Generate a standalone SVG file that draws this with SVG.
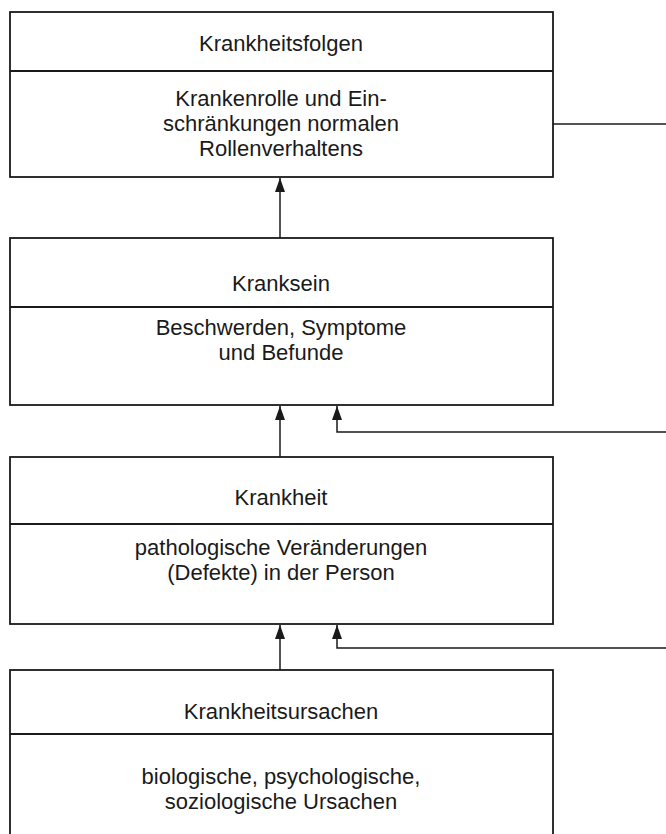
<svg xmlns="http://www.w3.org/2000/svg" width="666" height="834" viewBox="0 0 666 834">
<style>
.box{fill:#fff;stroke:#1a1a1a;stroke-width:1.8}
.div{stroke:#1a1a1a;stroke-width:1.8}
.t{font-family:"Liberation Sans",Arial,sans-serif;font-size:22px;fill:#1a1a1a;text-anchor:middle}
.c{fill:none;stroke:#1a1a1a;stroke-width:1.5}
</style>
<defs>
<marker id="ah" viewBox="0 0 14 10" refX="14" refY="5" markerWidth="14" markerHeight="10" markerUnits="userSpaceOnUse" orient="auto">
<path d="M0,0 L14,5 L0,10 Z" fill="#1a1a1a"/>
</marker>
</defs>
<rect width="666" height="834" fill="#fff"/>
<g id="folgen">
<rect class="box" x="10" y="12" width="543" height="165"/>
<line class="div" x1="10" y1="71" x2="553" y2="71"/>
<text class="t" x="281" y="51">Krankheitsfolgen</text>
<text class="t" x="281" y="106">Krankenrolle und Ein-</text>
<text class="t" x="281" y="131">schränkungen normalen</text>
<text class="t" x="281" y="156">Rollenverhaltens</text>
</g>
<g id="kranksein">
<rect class="box" x="10" y="238" width="543" height="167"/>
<line class="div" x1="10" y1="307" x2="553" y2="307"/>
<text class="t" x="281" y="291">Kranksein</text>
<text class="t" x="281" y="335">Beschwerden, Symptome</text>
<text class="t" x="281" y="360">und Befunde</text>
</g>
<g id="krankheit">
<rect class="box" x="10" y="457" width="543" height="167"/>
<line class="div" x1="10" y1="524" x2="553" y2="524"/>
<text class="t" x="281" y="505">Krankheit</text>
<text class="t" x="281" y="555">pathologische Veränderungen</text>
<text class="t" x="281" y="580">(Defekte) in der Person</text>
</g>
<g id="ursachen">
<rect class="box" x="10" y="670" width="543" height="180"/>
<line class="div" x1="10" y1="734" x2="553" y2="734"/>
<text class="t" x="281" y="719">Krankheitsursachen</text>
<text class="t" x="281" y="784">biologische, psychologische,</text>
<text class="t" x="281" y="809">soziologische Ursachen</text>
</g>
<g id="connectors">
<line class="c" x1="553" y1="124" x2="666" y2="124"/>
<line class="c" x1="280" y1="238" x2="280" y2="178" marker-end="url(#ah)"/>
<line class="c" x1="280" y1="457" x2="280" y2="406" marker-end="url(#ah)"/>
<polyline class="c" points="666,432 337,432 337,406" marker-end="url(#ah)"/>
<line class="c" x1="280" y1="670" x2="280" y2="625" marker-end="url(#ah)"/>
<polyline class="c" points="666,648 337,648 337,625" marker-end="url(#ah)"/>
</g>
</svg>
